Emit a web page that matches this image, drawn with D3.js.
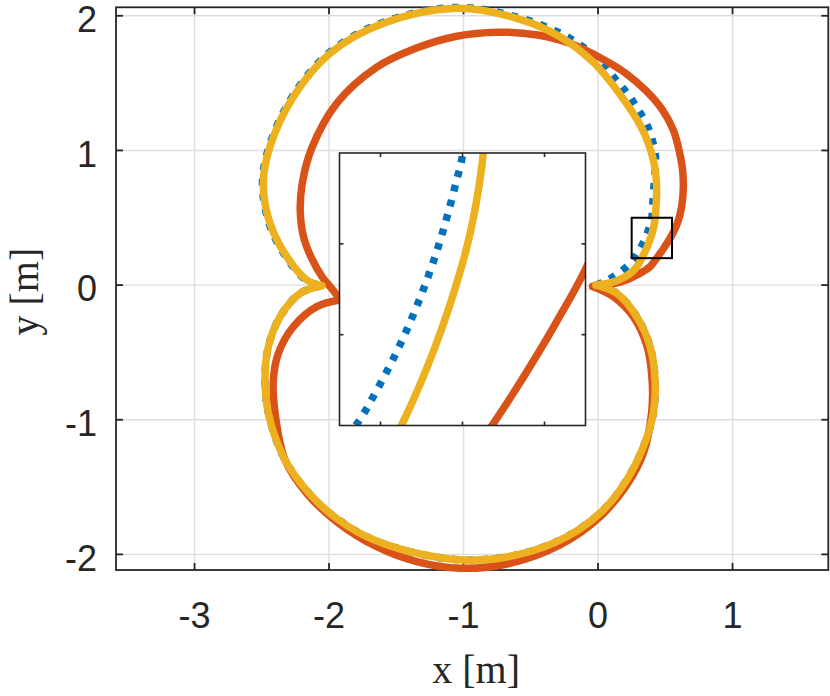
<!DOCTYPE html>
<html><head><meta charset="utf-8">
<script src="https://cdn.jsdelivr.net/npm/d3@7"></script>
<style>body{margin:0;background:#fff}svg{display:block}</style>
</head><body>
<svg id="chart" width="830" height="696"></svg>
<script>
// ---------- data ----------
const xTicks = [-3, -2, -1, 0, 1];
const yTicks = [-2, -1, 0, 1, 2];
const xLimits = [-3.584, 1.712];
const yLimits = [-2.116, 2.063];
const zoomXLimits = [0.25, 0.55];
const zoomYLimits = [0.2, 0.5];
const insetXTicks = [0.3, 0.4, 0.5];
const insetYTicks = [0.3, 0.4];
const xLabel = "x [m]";
const yLabel = "y [m]";

// reference path (blue, dotted): upper lobe then lower lobe
const refUpper = [
  [-0.015,0.0],[0.05,0.025],[0.114,0.062],[0.213,0.137],[0.2730,0.2041],[0.2933,0.2353],
  [0.3128,0.2684],[0.3293,0.2996],[0.3448,0.3326],[0.3595,0.3675],[0.3717,0.4006],
  [0.3823,0.4336],[0.3929,0.4703],[0.3994,0.4945],[0.406,0.58],[0.413,0.70],[0.424,0.83],
  [0.428,0.95],[0.405,1.07],[0.366,1.185],[0.300,1.30],[0.220,1.42],[0.12,1.54],
  [0.006,1.676],[-0.130,1.78],[-0.267,1.864],[-0.60,1.990],[-1.05,2.062],[-1.60,1.950],
  [-1.998,1.726],[-2.271,1.402],[-2.445,1.030],[-2.495,0.756],[-2.445,0.457],
  [-2.319,0.208],[-2.169,0.036],[-2.054,-0.005]
];
const refLower = [
  [-2.054,-0.005],[-2.215,-0.061],[-2.364,-0.235],[-2.451,-0.457],[-2.476,-0.705],
  [-2.451,-0.952],[-2.340,-1.274],[-2.191,-1.497],[-1.993,-1.695],[-1.720,-1.869],
  [-1.398,-1.980],[-1.001,-2.042],[-0.604,-2.004],[-0.233,-1.869],[0.039,-1.670],
  [0.213,-1.447],[0.337,-1.200],[0.411,-0.952],[0.424,-0.705],[0.387,-0.457],
  [0.288,-0.235],[0.139,-0.061],[-0.015,0.0]
];
// second path (orange)
const redUpper = [
  [-0.04,-0.01],[0.06,0.0],[0.19,0.03],[0.30,0.08],[0.39,0.14],[0.436,0.20],
  [0.4644,0.239],[0.4896,0.2757],[0.5159,0.3161],[0.5494,0.3711],[0.594,0.47],[0.621,0.58],
  [0.634,0.72],[0.628,0.86],[0.607,0.98],[0.56,1.15],[0.48,1.30],[0.36,1.44],
  [0.21,1.57],[0.05,1.67],[-0.21,1.796],[-0.45,1.857],[-0.753,1.878],[-1.05,1.848],
  [-1.35,1.76],[-1.65,1.615],[-1.943,1.350],[-2.129,1.016],[-2.20,0.75],[-2.214,0.55],
  [-2.19,0.36],[-2.13,0.20],[-2.05,0.06],[-1.968,-0.04],[-1.918,-0.111]
];
const redLower = [
  [-1.918,-0.111],[-2.091,-0.160],[-2.265,-0.309],[-2.377,-0.507],[-2.414,-0.705],
  [-2.401,-0.952],[-2.327,-1.299],[-2.166,-1.546],[-1.943,-1.757],[-1.645,-1.943],
  [-1.348,-2.054],[-1.026,-2.103],[-0.654,-2.066],[-0.283,-1.930],[0.015,-1.720],
  [0.213,-1.485],[0.337,-1.249],[0.398,-0.952],[0.402,-0.705],[0.365,-0.457],
  [0.262,-0.235],[0.114,-0.086],[-0.04,-0.01]
];
// third path (yellow)
const yelUpper = [
  [-0.015,0.0],[0.11,0.022],[0.195,0.058],[0.255,0.10],[0.296,0.148],[0.3256,0.20],
  [0.3488,0.2464],[0.3666,0.2867],[0.3865,0.3381],[0.4054,0.3968],[0.4173,0.4482],
  [0.4254,0.50],[0.432,0.60],[0.436,0.70],[0.430,0.82],[0.411,0.929],[0.374,1.053],
  [0.318,1.18],[0.175,1.40],[-0.03,1.65],[-0.283,1.845],[-0.604,1.981],[-1.051,2.056],
  [-1.596,1.944],[-1.993,1.721],[-2.265,1.399],[-2.439,1.028],[-2.489,0.756],
  [-2.439,0.459],[-2.314,0.211],[-2.166,0.038],[-2.054,-0.005]
];
const yelLower = [
  [-2.054,-0.005],[-2.215,-0.061],[-2.364,-0.235],[-2.451,-0.457],[-2.476,-0.705],
  [-2.451,-0.952],[-2.340,-1.274],[-2.191,-1.497],[-1.993,-1.695],[-1.720,-1.869],
  [-1.398,-1.980],[-1.001,-2.042],[-0.604,-2.004],[-0.233,-1.869],[0.039,-1.670],
  [0.213,-1.447],[0.337,-1.200],[0.411,-0.952],[0.424,-0.705],[0.387,-0.457],
  [0.288,-0.235],[0.139,-0.061],[-0.015,0.0]
];

// ---------- styles ----------
const C = { blue:"#0072BD", orange:"#D95319", yellow:"#EDB120", axis:"#262626", grid:"#dedede" };
const LW = 7.5;

const svg = d3.select("#chart");
svg.append("rect").attr("width",830).attr("height",696).attr("fill","#fff");

const main = { left:116, right:828.3, top:7.3, bottom:570 };
const x = d3.scaleLinear().domain(xLimits).range([main.left, main.right]);
const y = d3.scaleLinear().domain(yLimits).range([main.bottom, main.top]);

const inset = { left:339.5, right:585.5, top:153, bottom:425.5 };
const ix = d3.scaleLinear().domain(zoomXLimits).range([inset.left, inset.right]);
const iy = d3.scaleLinear().domain(zoomYLimits).range([inset.bottom, inset.top]);

const series = [
  { parts:[refUpper, refLower], color:C.blue, dash:"6.5 8.5", cap:"butt" },
  { parts:[redUpper, redLower], color:C.orange, dash:null, cap:"round" },
  { parts:[yelUpper, yelLower], color:C.yellow, dash:null, cap:"round" }
];

function drawCurves(g, sx, sy) {
  const line = d3.line().x(d => sx(d[0])).y(d => sy(d[1])).curve(d3.curveCatmullRom.alpha(0.5));
  series.forEach(s => {
    s.parts.forEach(p => {
      g.append("path").attr("d", line(p)).attr("fill","none")
        .attr("stroke", s.color).attr("stroke-width", LW)
        .attr("stroke-linecap", s.cap).attr("stroke-linejoin","round")
        .attr("stroke-dasharray", s.dash);
    });
  });
}

function drawFrame(g, sx, sy, box, xt, yt, tickLen, sw) {
  g.append("rect").attr("x",box.left).attr("y",box.top)
    .attr("width",box.right-box.left).attr("height",box.bottom-box.top)
    .attr("fill","none").attr("stroke",C.axis).attr("stroke-width",sw);
  const t = g.append("g").attr("stroke",C.axis).attr("stroke-width",sw);
  xt.forEach(v => {
    t.append("line").attr("x1",sx(v)).attr("x2",sx(v)).attr("y1",box.bottom).attr("y2",box.bottom-tickLen);
    t.append("line").attr("x1",sx(v)).attr("x2",sx(v)).attr("y1",box.top).attr("y2",box.top+tickLen);
  });
  yt.forEach(v => {
    t.append("line").attr("y1",sy(v)).attr("y2",sy(v)).attr("x1",box.left).attr("x2",box.left+tickLen);
    t.append("line").attr("y1",sy(v)).attr("y2",sy(v)).attr("x1",box.right).attr("x2",box.right-tickLen);
  });
}

// grid
const grid = svg.append("g").attr("stroke",C.grid).attr("stroke-width",1.4);
xTicks.forEach(v => grid.append("line").attr("x1",x(v)).attr("x2",x(v)).attr("y1",main.top).attr("y2",main.bottom));
yTicks.forEach(v => grid.append("line").attr("y1",y(v)).attr("y2",y(v)).attr("x1",main.left).attr("x2",main.right));

// main frame
drawFrame(svg.append("g"), x, y, main, xTicks, yTicks, 7, 1.8);

// main curves
drawCurves(svg.append("g"), x, y);

// zoom rectangle
svg.append("rect").attr("x",x(zoomXLimits[0])).attr("y",y(zoomYLimits[1]))
  .attr("width",x(zoomXLimits[1])-x(zoomXLimits[0])).attr("height",y(zoomYLimits[0])-y(zoomYLimits[1]))
  .attr("fill","none").attr("stroke","#000").attr("stroke-width",2);

// inset
svg.append("defs").append("clipPath").attr("id","insetClip").append("rect")
  .attr("x",inset.left).attr("y",inset.top).attr("width",inset.right-inset.left).attr("height",inset.bottom-inset.top);
svg.append("rect").attr("x",inset.left).attr("y",inset.top)
  .attr("width",inset.right-inset.left).attr("height",inset.bottom-inset.top).attr("fill","#fff");
drawCurves(svg.append("g").attr("clip-path","url(#insetClip)"), ix, iy);
drawFrame(svg.append("g"), ix, iy, inset, insetXTicks, insetYTicks, 4, 1.6);

// tick labels
const tickFont = "'Liberation Sans', Arial, Helvetica, sans-serif";
svg.append("g").selectAll("text").data(xTicks).join("text")
  .attr("x", d => x(d)).attr("y", 628).attr("text-anchor","middle")
  .attr("font-family",tickFont).attr("font-size",36).attr("fill","#262626")
  .text(d => d);
svg.append("g").selectAll("text").data(yTicks).join("text")
  .attr("x", 97).attr("y", d => y(d)).attr("dy","0.45em").attr("text-anchor","end")
  .attr("font-family",tickFont).attr("font-size",36).attr("fill","#262626")
  .text(d => d);

// axis labels
const labFont = "'Liberation Serif', 'Times New Roman', serif";
svg.append("text").attr("x",(main.left+main.right)/2 + 4).attr("y",683).attr("text-anchor","middle")
  .attr("font-family",labFont).attr("font-size",40).attr("fill","#262626").text(xLabel);
svg.append("text").attr("transform",`translate(38,${(main.top+main.bottom)/2 + 3}) rotate(-90)`)
  .attr("text-anchor","middle").attr("font-family",labFont).attr("font-size",40).attr("fill","#262626").text(yLabel);
</script>
</body></html>
